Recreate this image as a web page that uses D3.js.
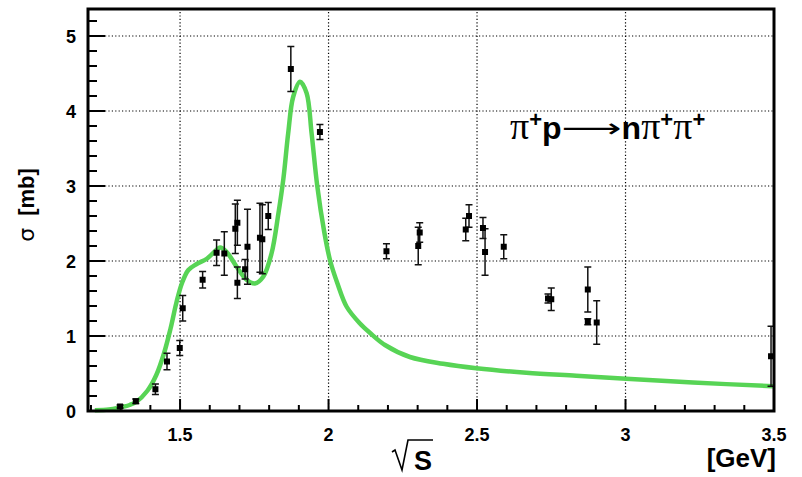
<!DOCTYPE html>
<html>
<head>
<meta charset="utf-8">
<script src="https://cdn.jsdelivr.net/npm/d3@7"></script>
<style>
  html, body { margin: 0; padding: 0; background: #fff; }
  svg { display: block; }
  .lbl { font-family: "Liberation Sans", Arial, sans-serif; font-weight: bold; fill: #000; }
</style>
</head>
<body>
<svg id="chart" width="802" height="477"></svg>
<script>
// measured points: sqrt(s) [GeV], sigma [mb], error [mb]
const pointX = [1.298, 1.351, 1.417, 1.456, 1.499, 1.509, 1.576, 1.623, 1.649, 1.686, 1.693, 1.693,
  1.719, 1.727, 1.769, 1.777, 1.797, 1.873, 1.971, 2.195, 2.302, 2.307, 2.462, 2.473, 2.520,
  2.527, 2.590, 2.739, 2.750, 2.873, 2.873, 2.903, 3.490];
const pointY = [0.06, 0.13, 0.29, 0.66, 0.84, 1.37, 1.75, 2.11, 2.10, 2.43, 2.51, 1.71,
  1.89, 2.19, 2.31, 2.29, 2.60, 4.56, 3.72, 2.13, 2.20, 2.38, 2.42, 2.60, 2.44,
  2.12, 2.19, 1.50, 1.49, 1.62, 1.19, 1.18, 0.73];
const pointErr = [0.02, 0.03, 0.07, 0.11, 0.10, 0.17, 0.11, 0.17, 0.29, 0.33, 0.30, 0.21,
  0.13, 0.50, 0.46, 0.46, 0.18, 0.30, 0.10, 0.10, 0.25, 0.13, 0.15, 0.15, 0.14,
  0.31, 0.16, 0.06, 0.15, 0.30, 0.04, 0.29, 0.40];

// model curve
const curveX = [1.213, 1.26, 1.29, 1.33, 1.352, 1.39, 1.42, 1.446, 1.468, 1.488, 1.506, 1.528,
  1.556, 1.590, 1.615, 1.635, 1.657, 1.691, 1.724, 1.752, 1.780, 1.808, 1.831, 1.848, 1.864,
  1.881, 1.904, 1.926, 1.943, 1.962, 1.985, 2.005, 2.030, 2.061, 2.105, 2.14, 2.19, 2.274,
  2.386, 2.498, 2.666, 2.834, 3.002, 3.227, 3.496];
const curveY = [0.01, 0.02, 0.04, 0.08, 0.12, 0.27, 0.48, 0.77, 1.10, 1.45, 1.70, 1.88,
  1.96, 2.03, 2.12, 2.18, 2.12, 1.92, 1.75, 1.70, 1.79, 2.10, 2.63, 3.10, 3.70,
  4.19, 4.39, 4.24, 3.70, 3.00, 2.40, 2.01, 1.70, 1.39, 1.17, 1.04, 0.88, 0.72,
  0.63, 0.57, 0.51, 0.47, 0.43, 0.38, 0.33];

const xMajor = [1.5, 2, 2.5, 3, 3.5];
const xMajorLabels = ["1.5", "2", "2.5", "3", "3.5"];
const yMajor = [0, 1, 2, 3, 4, 5];
const yMajorLabels = ["0", "1", "2", "3", "4", "5"];

const svg = d3.select("#chart");
const x = d3.scaleLinear().domain([1.19, 3.5]).range([88, 774]);
const y = d3.scaleLinear().domain([0, 5.36]).range([411, 9]);

const xMinor = d3.range(12, 35).map(v => v / 10).filter(v => !xMajor.some(m => Math.abs(m - v) < 1e-6));
const yMinor = d3.range(0, 27).map(v => v / 5).filter(v => !yMajor.some(m => Math.abs(m - v) < 1e-6));

// dotted grid
const grid = svg.append("g").attr("stroke", "#000").attr("stroke-width", 1.2).attr("stroke-dasharray", "1.2,2.2");
grid.selectAll(".gx").data(xMajor.filter(v => v < 3.5)).enter().append("line")
  .attr("x1", d => x(d)).attr("x2", d => x(d)).attr("y1", y.range()[0]).attr("y2", y.range()[1]);
grid.selectAll(".gy").data(yMajor.filter(v => v > 0)).enter().append("line")
  .attr("y1", d => y(d)).attr("y2", d => y(d)).attr("x1", x.range()[0]).attr("x2", x.range()[1]);

// curve
const line = d3.line().x(d => x(d[0])).y(d => y(d[1])).curve(d3.curveCatmullRom.alpha(0.5));
svg.append("path")
  .datum(curveX.map((v, i) => [v, curveY[i]]))
  .attr("fill", "none")
  .attr("stroke", "#57d455")
  .attr("stroke-width", 4.5)
  .attr("stroke-linejoin", "round")
  .attr("d", line);

// data points with error bars
const pts = pointX.map((v, i) => ({ x: v, y: pointY[i], e: pointErr[i] }));
const pg = svg.append("g");
pg.selectAll(".eb").data(pts).enter().append("path")
  .attr("fill", "none").attr("stroke", "#111").attr("stroke-width", 1.5)
  .attr("d", d => {
    const cx = x(d.x), y1 = y(d.y + d.e), y2 = y(d.y - d.e);
    return `M${cx},${y1}V${y2}M${cx - 3.5},${y1}H${cx + 3.5}M${cx - 3.5},${y2}H${cx + 3.5}`;
  });
pg.selectAll(".pt").data(pts).enter().append("rect")
  .attr("x", d => x(d.x) - 3).attr("y", d => y(d.y) - 3)
  .attr("width", 6).attr("height", 6).attr("fill", "#000");

// frame
svg.append("rect")
  .attr("x", x.range()[0]).attr("y", y.range()[1])
  .attr("width", x.range()[1] - x.range()[0]).attr("height", y.range()[0] - y.range()[1])
  .attr("fill", "none").attr("stroke", "#000").attr("stroke-width", 3);

// ticks
const tk = svg.append("g").attr("stroke", "#000").attr("stroke-width", 2);
tk.selectAll(".xM").data(xMajor).enter().append("line")
  .attr("x1", d => x(d)).attr("x2", d => x(d)).attr("y1", y(0)).attr("y2", y(0) - 12);
tk.selectAll(".xm").data(xMinor).enter().append("line")
  .attr("x1", d => x(d)).attr("x2", d => x(d)).attr("y1", y(0)).attr("y2", y(0) - 6);
tk.selectAll(".yM").data(yMajor).enter().append("line")
  .attr("y1", d => y(d)).attr("y2", d => y(d)).attr("x1", x.range()[0]).attr("x2", x.range()[0] + 17);
tk.selectAll(".ym").data(yMinor).enter().append("line")
  .attr("y1", d => y(d)).attr("y2", d => y(d)).attr("x1", x.range()[0]).attr("x2", x.range()[0] + 9);

// tick labels
svg.selectAll(".xl").data(xMajor).enter().append("text")
  .attr("class", "lbl").attr("font-size", 18)
  .attr("x", d => x(d)).attr("y", 441).attr("text-anchor", "middle")
  .text((d, i) => xMajorLabels[i]);
svg.selectAll(".yl").data(yMajor).enter().append("text")
  .attr("class", "lbl").attr("font-size", 18)
  .attr("x", 76).attr("y", d => y(d) + 6.5).attr("text-anchor", "end")
  .text((d, i) => yMajorLabels[i]);

// axis titles
const sq = svg.append("g").attr("transform", "translate(392,440)");
sq.append("path").attr("fill", "none").attr("stroke", "#000").attr("stroke-width", 1.6)
  .attr("d", "M0,12 L3,10 L10,30 L16,0 L41,0");
sq.append("text").attr("class", "lbl").attr("font-size", 27).attr("x", 22).attr("y", 30).text("S");

svg.append("text").attr("class", "lbl").attr("font-size", 26)
  .attr("x", 776).attr("y", 467).attr("text-anchor", "end").text("[GeV]");

const yt = svg.append("text")
  .attr("transform", "translate(34,205) rotate(-90)")
  .attr("text-anchor", "middle")
  .attr("font-family", "Liberation Sans, Arial, sans-serif")
  .attr("font-size", 22);
yt.append("tspan").attr("font-family", "DejaVu Sans, sans-serif").text("σ");
yt.append("tspan").attr("dx", 12).attr("font-weight", "bold").text("[mb]");

// reaction label
const parts = [
  { t: "π", kind: "pi" }, { t: "+", kind: "sup" }, { t: "p", kind: "bold" },
  { t: "⟶", kind: "arrow" }, { t: "n", kind: "bold" },
  { t: "π", kind: "pi" }, { t: "+", kind: "sup" }, { t: "π", kind: "pi" }, { t: "+", kind: "sup" }
];
const rx = svg.append("text")
  .attr("x", 510).attr("y", 139)
  .attr("font-family", "Liberation Sans, Arial, sans-serif")
  .attr("font-size", 30);
let raised = false;
parts.forEach(p => {
  const ts = rx.append("tspan").text(p.t);
  let dy = 0;
  if (p.kind === "sup") { if (!raised) dy = -12; raised = true; }
  else { if (raised) dy = 12; raised = false; }
  if (dy) ts.attr("dy", dy);
  if (p.kind === "pi") ts.attr("font-family", "Liberation Serif, serif").attr("font-size", 38);
  if (p.kind === "sup") ts.attr("font-weight", "bold").attr("font-size", 22);
  if (p.kind === "bold") ts.attr("font-weight", "bold").attr("font-size", 32);
  if (p.kind === "arrow") ts.attr("font-family", "DejaVu Sans, sans-serif").attr("font-size", 26)
    .attr("textLength", 60).attr("lengthAdjust", "spacingAndGlyphs").attr("dy", -2);
  if (p.kind === "bold" && p.t === "n") ts.attr("dy", 2);
});
</script>
</body>
</html>
